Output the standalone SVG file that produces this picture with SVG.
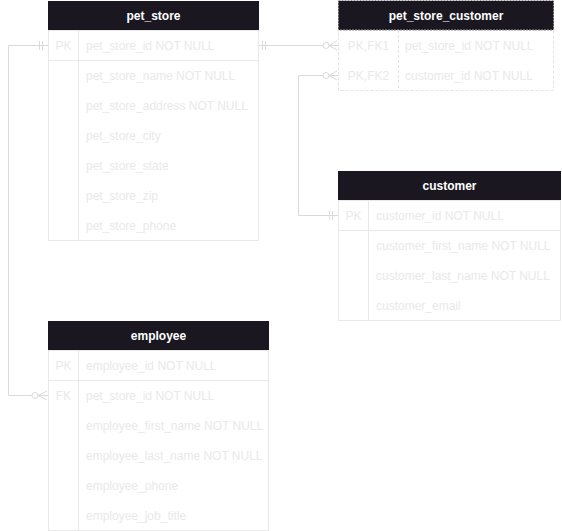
<svg xmlns="http://www.w3.org/2000/svg" width="562" height="531" viewBox="0 0 562 531">
<style>
.hdr{fill:#1a1720}
.ht{fill:#ffffff;font-family:"Liberation Sans",Arial,sans-serif;font-size:12px;font-weight:bold;text-anchor:middle}
.box{fill:none;stroke:#e8e8e8;stroke-width:1}
.dbox{fill:none;stroke:#e2e2e2;stroke-width:1;stroke-dasharray:3,2}
.dhdr{fill:none;stroke:#9a9a9a;stroke-width:1;stroke-dasharray:2,1}
.k{fill:#e9e9e9;font-family:"Liberation Sans",Arial,sans-serif;font-size:12px;text-anchor:middle}
.a{fill:#e9e9e9;font-family:"Liberation Sans",Arial,sans-serif;font-size:12px}
.ln{fill:none;stroke:#dadada;stroke-width:1}
</style>
<g id="connectors">
  <path class="ln" d="M48,45.5 H8.5 V395.5 H32"/>
  <path class="ln" d="M38,395.5 H48"/>
  <path class="ln" d="M39.5,41 V50 M42.5,41 V50"/>
  <circle class="ln" cx="35" cy="395.5" r="3"/>
  <path class="ln" d="M38,395.5 L47,391 M38,395.5 L47,400"/>
  <path class="ln" d="M259,45.5 H323"/>
  <path class="ln" d="M329,45.5 H338"/>
  <path class="ln" d="M262.5,41 V50 M265.5,41 V50"/>
  <circle class="ln" cx="326" cy="45.5" r="3"/>
  <path class="ln" d="M329,45.5 L337,41 M329,45.5 L337,50"/>
  <path class="ln" d="M338,215.5 H298.5 V75.5 H323"/>
  <path class="ln" d="M329,75.5 H338"/>
  <path class="ln" d="M329.5,211 V220 M332.5,211 V220"/>
  <circle class="ln" cx="326" cy="75.5" r="3"/>
  <path class="ln" d="M329,75.5 L337,71 M329,75.5 L337,80"/>
</g>
<g id="pet_store">
  <rect class="box" x="48.5" y="30.5" width="210" height="210"/>
  <rect class="hdr" x="48" y="1" width="211" height="29"/>
  <text class="ht" x="153.5" y="19.5">pet_store</text>
  <line class="box" x1="78.5" y1="30" x2="78.5" y2="240"/>
  <line class="box" x1="48" y1="60.5" x2="259" y2="60.5"/>
  <text class="k" x="63.5" y="49.5">PK</text>
  <text class="a" x="86" y="49.5">pet_store_id NOT NULL</text>
  <text class="a" x="86" y="79.5">pet_store_name NOT NULL</text>
  <text class="a" x="86" y="109.5">pet_store_address NOT NULL</text>
  <text class="a" x="86" y="139.5">pet_store_city</text>
  <text class="a" x="86" y="169.5">pet_store_state</text>
  <text class="a" x="86" y="199.5">pet_store_zip</text>
  <text class="a" x="86" y="229.5">pet_store_phone</text>
</g>
<g id="pet_store_customer">
  <rect class="dbox" x="338.5" y="30.5" width="215" height="60"/>
  <rect class="hdr" x="338" y="1" width="216" height="29"/>
  <rect class="dhdr" x="338.5" y="0.5" width="215" height="29.5"/>
  <text class="ht" x="446" y="19.5">pet_store_customer</text>
  <line class="dbox" x1="398.5" y1="30" x2="398.5" y2="90"/>
  <text class="k" x="368.5" y="49.5">PK,FK1</text>
  <text class="a" x="405" y="49.5">pet_store_id NOT NULL</text>
  <text class="k" x="368.5" y="79.5">PK,FK2</text>
  <text class="a" x="405" y="79.5">customer_id NOT NULL</text>
</g>
<g id="customer">
  <rect class="box" x="338.5" y="200.5" width="222" height="120"/>
  <rect class="hdr" x="338" y="171" width="223" height="29"/>
  <text class="ht" x="449.5" y="189.5">customer</text>
  <line class="box" x1="368.5" y1="200" x2="368.5" y2="320"/>
  <line class="box" x1="338" y1="230.5" x2="561" y2="230.5"/>
  <text class="k" x="353.5" y="219.5">PK</text>
  <text class="a" x="376" y="219.5">customer_id NOT NULL</text>
  <text class="a" x="376" y="249.5">customer_first_name NOT NULL</text>
  <text class="a" x="376" y="279.5">customer_last_name NOT NULL</text>
  <text class="a" x="376" y="309.5">customer_email</text>
</g>
<g id="employee">
  <rect class="box" x="48.5" y="350.5" width="220" height="180"/>
  <rect class="hdr" x="48" y="321" width="221" height="29"/>
  <text class="ht" x="158.5" y="339.5">employee</text>
  <line class="box" x1="78.5" y1="350" x2="78.5" y2="530"/>
  <line class="box" x1="48" y1="380.5" x2="269" y2="380.5"/>
  <text class="k" x="63.5" y="369.5">PK</text>
  <text class="a" x="86" y="369.5">employee_id NOT NULL</text>
  <text class="k" x="63.5" y="399.5">FK</text>
  <text class="a" x="86" y="399.5">pet_store_id NOT NULL</text>
  <text class="a" x="86" y="429.5">employee_first_name NOT NULL</text>
  <text class="a" x="86" y="459.5">employee_last_name NOT NULL</text>
  <text class="a" x="86" y="489.5">employee_phone</text>
  <text class="a" x="86" y="519.5">employee_job_title</text>
</g>
</svg>
